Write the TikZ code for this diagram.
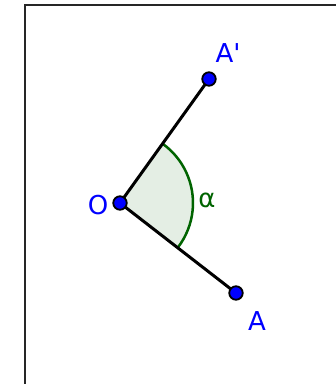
\documentclass[tikz,border=0pt]{standalone}
\usepackage{fontspec}
\setmainfont{DejaVu Sans}
\definecolor{ptblue}{RGB}{0,0,255}
\definecolor{anggreen}{RGB}{0,100,0}
\definecolor{angfill}{RGB}{228,238,228}
\definecolor{framegray}{RGB}{38,38,38}
\newcommand{\straightprime}{\XeTeXglyph\XeTeXcharglyph"0027\relax}
\begin{document}
\begin{tikzpicture}[x=1pt,y=-1pt,
  dot/.style={circle,fill=ptblue,draw=black,line width=1.8pt,inner sep=0pt,minimum size=13.5pt},
  seg/.style={draw=black,line width=3pt},
  ptlabel/.style={text=ptblue,font=\fontsize{26}{26}\selectfont,inner sep=0pt},
  anglabel/.style={text=anggreen,font=\fontsize{26}{26}\selectfont,inner sep=0pt}]
\useasboundingbox (0,0) rectangle (336,384);
\fill[white] (0,0) rectangle (336,384);
% frame
\draw[framegray,line width=2.5pt] (25,390) -- (25,5) -- (340,5);
% coordinates
\coordinate (Oc) at (120,203);
\coordinate (Apc) at (209,79);
\coordinate (Ac) at (236,293);
% angle sector
\fill[angfill] (Oc) -- ++(-54.3:73) arc[start angle=-54.3,end angle=37.8,radius=73] -- cycle;
\draw[anggreen,line width=2.5pt] (Oc) ++(-54.3:73) arc[start angle=-54.3,end angle=37.8,radius=73];
% segments
\draw[seg] (Oc) -- (Apc);
\draw[seg] (Oc) -- (Ac);
% points
\node[dot] (O) at (Oc) {};
\node[dot] (Ap) at (Apc) {};
\node[dot] (A) at (Ac) {};
% labels
\node[ptlabel] (lO) at (98,205) {O};
\node[ptlabel] (lAp) at (228,53) {A\straightprime};
\node[ptlabel] (lA) at (257,321) {A};
\node[anglabel] (lalpha) at (207,200) {α};
\end{tikzpicture}
\end{document}
